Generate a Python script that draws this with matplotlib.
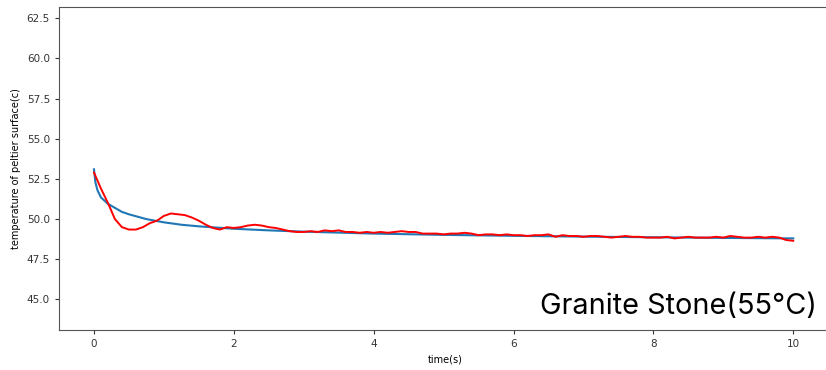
import matplotlib
matplotlib.use("Agg")
import matplotlib.pyplot as plt
import numpy as np

# Fitted (blue) curve
fit_t = [0, 0.02, 0.05, 0.1, 0.2, 0.3, 0.4, 0.5, 0.75, 1.0, 1.25, 1.5, 2.0, 2.5, 3.0, 4.0, 5.0, 6.0, 7.0, 8.0, 9.0, 10.0]
fit_temp = [53.1, 52.3, 51.8, 51.35, 50.95, 50.7, 50.45, 50.3, 50.0, 49.8, 49.65, 49.55, 49.4, 49.3, 49.22, 49.1, 49.02, 48.96, 48.91, 48.87, 48.83, 48.8]

# Measured (red) curve
meas_t = [round(0.1 * i, 1) for i in range(101)]
meas_temp = [
    52.9, 51.9, 51.0, 50.0, 49.5, 49.35, 49.35, 49.5, 49.75, 49.9,
    50.2, 50.35, 50.3, 50.25, 50.1, 49.9, 49.65, 49.45, 49.35, 49.5,
    49.45, 49.5, 49.6, 49.65, 49.6, 49.5, 49.45, 49.35, 49.25, 49.2,
    49.2, 49.25, 49.2, 49.3, 49.25, 49.3, 49.2, 49.2, 49.15, 49.2,
    49.15, 49.2, 49.15, 49.2, 49.25, 49.2, 49.2, 49.1, 49.1, 49.1,
    49.05, 49.1, 49.1, 49.15, 49.1, 49.0, 49.05, 49.05, 49.0, 49.05,
    49.0, 49.0, 48.95, 49.0, 49.0, 49.05, 48.9, 49.0, 48.95, 48.95,
    48.9, 48.95, 48.95, 48.9, 48.85, 48.9, 48.95, 48.9, 48.9, 48.85,
    48.85, 48.85, 48.9, 48.8, 48.85, 48.9, 48.85, 48.85, 48.85, 48.9,
    48.85, 48.95, 48.9, 48.85, 48.85, 48.9, 48.85, 48.9, 48.85, 48.7,
    48.65,
]

y_ticks = [45.0, 47.5, 50.0, 52.5, 55.0, 57.5, 60.0, 62.5]
x_ticks = [0, 2, 4, 6, 8, 10]
title_text = "Granite Stone(55°C)"

W, H = 826, 370
fig = plt.figure(figsize=(W / 100, H / 100), dpi=100)
left, right, top, bottom = 59, 831, 7, 330
ax = fig.add_axes([left / W, 1 - bottom / H, (right - left) / W, (bottom - top) / H])
ax.plot(fit_t, fit_temp, color="#1f77b4", lw=1.5)
ax.plot(meas_t, meas_temp, color="red", lw=1.4)
ax.set_xlim(-0.5, 10.54)
ax.set_ylim(43.1, 63.2)
ax.set_yticks(y_ticks)
ax.set_yticklabels([f"{v:.1f}" for v in y_ticks])
ax.set_xticks(x_ticks)
ax.tick_params(labelsize=7.5, colors="#333333", length=3)
ax.set_xlabel("time(s)", fontsize=7)
ax.set_ylabel("temperature of peltier surface(c)", fontsize=7)
for s in ax.spines.values():
    s.set_color("#555555")
fig.text(817 / W, 1 - 314 / H, title_text, ha="right", va="baseline",
         fontsize=20.8, family=["Inter", "DejaVu Sans"], color="black")
fig.savefig("out.png", dpi=100)
